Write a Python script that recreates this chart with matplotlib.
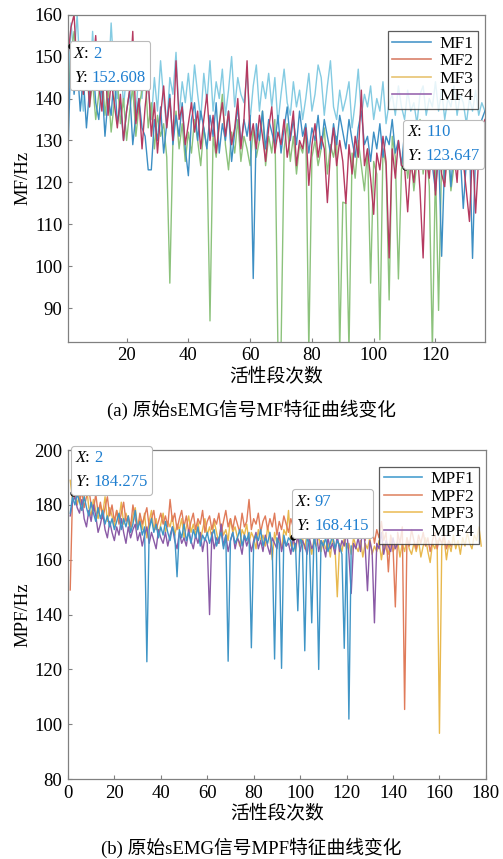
import numpy as np
import matplotlib
matplotlib.use("Agg")
import matplotlib.pyplot as plt
from matplotlib.lines import Line2D
from matplotlib.offsetbox import TextArea, HPacker, VPacker, AnnotationBbox

plt.rcParams['font.family'] = ['Liberation Serif', 'Noto Sans CJK SC']

# ---- data: (a) MF ----
mf1 = [126, 152.608, 141, 148, 137, 145, 133, 142, 150, 139, 135, 144, 131, 140, 136, 146, 134, 139, 130, 137,
       142, 129, 136, 140, 133, 131, 123, 123, 135, 130, 138, 127, 134, 141, 129, 136, 131, 139, 128, 121.6,
       135, 139, 130, 137, 133, 128, 136, 131, 139, 127, 134, 130, 137, 125, 132, 138, 129, 135, 131, 136,
       97.1, 134, 130, 137, 128, 135, 132, 129, 136, 127, 133, 138, 130, 135, 129, 137, 131, 134, 127, 133,
       130, 136, 128, 135, 131, 127, 134, 129, 136, 132, 128, 135, 130, 126, 133, 137, 129, 131, 125, 132,
       128, 134, 126, 131, 129, 135, 127, 130, 124, 132, 128, 126, 133, 129, 125, 131, 127, 130, 124, 118,
       128, 102.4, 126, 131, 119, 129, 124, 127, 113.8, 125, 130, 101.9, 128, 132, 135, 137]
mf2 = [150, 157, 160, 146, 153, 141, 151, 138, 147, 155, 143, 137, 149, 136, 144, 139, 133, 141, 130, 137,
       142, 156, 134, 140, 128, 138, 145, 131, 139, 127, 136, 143, 133, 140, 130, 149, 135, 138, 129, 134,
       139, 132, 137, 128, 135, 141, 130, 136, 127, 134, 139, 131, 137, 129, 133, 140, 128, 135, 149, 130,
       134, 128, 136, 131, 125, 133, 138, 127, 132, 129, 135, 126, 131, 137, 124, 130, 128, 133, 119.3, 129,
       134, 126, 131, 128, 115.2, 127, 133, 124, 130, 125, 115, 129, 122, 131, 126, 142, 124, 128, 121, 112.4,
       127, 123, 131, 125, 102, 128, 121, 130, 124, 123.647, 113, 125, 120, 129, 118, 102, 126, 121, 131, 117,
       128, 122, 119, 130, 124, 127, 120, 133, 125, 118, 110.7, 128, 112.7, 126, 131, 135]
mf3 = [140, 150, 156, 147, 152, 141, 148, 138, 144, 135, 141, 147, 136, 143, 132, 139, 145, 134, 140, 130,
       137, 143, 131, 138, 142, 146, 133, 139, 128, 136, 131, 134, 126, 96, 130, 137, 128, 134, 125, 132,
       127, 135, 130, 124, 133, 128, 87, 131, 126, 134, 141, 129, 123, 132, 127, 135, 125, 131, 128, 124,
       133, 126, 130, 137, 124, 131, 127, 135, 80, 80, 128, 134, 125, 131, 122, 129, 127, 133, 80, 126,
       130, 124, 128, 133, 122, 129, 126, 131, 80, 115.3, 115, 80, 127, 121, 130, 124, 118, 128, 96, 125,
       122, 82.5, 128, 124, 92, 131, 126, 97, 123, 129, 121, 127, 118, 125, 135, 122, 128, 119, 80, 124,
       89.5, 126, 120, 128, 118, 124]
mf4 = [140, 158, 150, 160, 145, 137, 152, 141, 156, 143, 148, 138, 150, 142, 158, 145, 140, 152, 138, 146,
       150, 141, 136, 147, 140, 152, 142, 135, 145, 137, 149, 140, 133, 145, 141, 151, 136, 144, 139, 146,
       138, 148, 141, 135, 146, 139, 149, 137, 144, 140, 147, 136, 142, 150, 138, 145, 141, 139, 146, 135,
       143, 148, 137, 144, 140, 146, 138, 145, 134, 141, 147, 139, 136, 144, 138, 142, 135, 140, 146, 137,
       141, 148, 145, 136, 143, 149, 138, 135, 142, 137, 140, 144, 133, 139, 147, 136, 141, 138, 143, 135,
       140, 137, 144, 134, 139, 141, 136, 143, 138, 135, 142, 137, 139, 134, 141, 143, 136, 140, 138, 144,
       137, 142, 135, 140, 138, 143, 136, 141, 139, 134, 140, 137, 142, 136, 139, 137]

# ---- data: (b) MPF ----
mpf1 = [177, 183, 180, 184, 181, 178, 183, 179, 176, 181, 177, 174, 179, 175, 178, 173, 176, 172, 175, 171,
        174, 177, 171, 175, 172, 176, 170, 173, 178, 171, 174, 169, 172, 122.8, 171, 175, 170, 173, 168, 172,
        169, 174, 170, 167, 172, 169, 153.8, 171, 168, 173, 167, 170, 166, 171, 168, 172, 165, 169, 167, 170,
        166, 169, 171, 165, 168, 170, 164, 169, 123, 167, 170, 166, 168, 171, 165, 169, 167, 170, 127.9, 166,
        169, 167, 171, 165, 168, 166, 170, 164, 123.8, 168, 166, 120.4, 169, 165, 168, 167, 163, 166, 141.4, 169,
        165, 126.8, 168, 166, 137, 169, 164, 120, 167, 165, 168, 163, 166, 169, 164, 167, 165, 162, 127.7, 166,
        101.9, 165]
mpf2 = [149, 184.275, 183, 187, 181, 185, 179, 183, 186, 180, 178, 184, 177, 181, 175, 179, 183, 176, 180, 174,
        178, 173, 177, 181, 174, 176, 172, 180, 175, 171, 177, 173, 176, 179, 172, 175, 178, 171, 174, 177,
        173, 176, 172, 182, 174, 177, 171, 175, 178, 172, 176, 170, 174, 177, 171, 175, 173, 178, 170, 174,
        176, 171, 175, 173, 177, 170, 174, 178, 172, 175, 171, 176, 173, 170, 177, 172, 174, 182, 171, 175,
        173, 177, 170, 174, 176, 171, 175, 172, 177, 169, 174, 171, 176, 173, 170, 175, 172, 178, 169, 174,
        171, 176, 170, 173, 175, 169, 174, 171, 177, 168, 173, 170, 175, 172, 169, 174, 171, 168, 176, 170,
        173, 169, 175, 171, 168, 174, 170, 167, 173, 169, 172, 166, 171, 168, 174, 167, 170, 155.6, 169, 165,
        142.8, 170, 166, 172, 105.4, 168, 165, 171, 167, 164, 169, 166, 170, 165, 168, 163, 167, 170, 164, 168,
        166, 169, 164, 167, 165]
mpf3 = [189, 182, 186, 180, 184, 178, 183, 187, 179, 176, 182, 178, 175, 180, 177, 183, 174, 179, 176, 172,
        178, 175, 181, 173, 177, 174, 170, 176, 179, 172, 175, 171, 177, 168, 174, 178, 171, 175, 169, 173,
        177, 170, 174, 172, 176, 169, 173, 171, 175, 168, 172, 176, 170, 173, 169, 174, 167, 171, 175, 169,
        172, 168, 174, 170, 166, 173, 169, 171, 167, 175, 170, 172, 168, 165, 171, 169, 173, 166, 170, 168,
        164, 171, 167, 169, 165, 172, 168, 160, 170, 166, 168, 164, 171, 169, 178, 165, 167, 163, 169, 166,
        168, 164, 170, 166, 162, 168, 165, 169, 163, 167, 164, 166, 161, 168, 165, 146.5, 166, 163, 168, 164,
        166, 162, 168, 165, 163, 167, 161, 166, 164, 168, 162, 165, 163, 167, 160, 166, 164, 162, 168, 163,
        165, 167, 161, 166, 163, 168, 164, 162, 166, 163, 167, 161, 165, 168, 163, 159, 166, 164, 167, 96.7,
        165, 168, 160, 166, 163, 169, 164, 167, 162, 168, 165, 170, 166, 164, 169, 167, 172, 165]
mpf4 = [176, 181, 183, 179, 177, 182, 175, 172, 178, 174, 180, 176, 170, 173, 177, 171, 168, 174, 170, 167,
        172, 169, 175, 170, 166, 172, 168, 171, 173, 167, 170, 165, 169, 172, 166, 170, 167, 164, 171, 168,
        166, 170, 165, 169, 172, 167, 164, 170, 166, 168, 165, 171, 167, 164, 169, 166, 170, 163, 168, 166,
        140, 170, 164, 168, 166, 173, 165, 169, 163, 167, 170, 164, 168, 166, 162, 169, 165, 168, 163, 167,
        170, 164, 167, 163, 169, 165, 162, 168, 166, 164, 170, 163, 167, 165, 166, 162, 168.415, 164, 169, 163,
        167, 165, 162, 168, 164, 166, 170, 163, 167, 165, 161, 168, 164, 166, 162, 169, 163, 167, 165, 171,
        162, 147.7, 166, 164, 168, 163, 174, 165, 148.7, 167, 163, 137, 166, 164, 170, 162, 167, 165, 163, 168,
        164, 166]

mf_labels = ["MF1", "MF2", "MF3", "MF4"]
mpf_labels = ["MPF1", "MPF2", "MPF3", "MPF4"]
legend_colors = ["#4a97c9", "#d9806a", "#e8c472", "#9a68b0"]


def idx(y):
    return np.arange(1, len(y) + 1)


def datatip(ax, xv, yv, dx, dy, align=(0, 0)):
    ax.plot(xv, yv, "o", color="black", ms=3.5, zorder=6, clip_on=False)
    fs = 12
    row1 = HPacker(children=[TextArea("X", textprops=dict(style="italic", size=fs, color="black")),
                             TextArea(": ", textprops=dict(size=fs, color="black")),
                             TextArea(f"{xv:g}", textprops=dict(size=fs, color="#1f7fd0"))],
                   pad=0, sep=0)
    row2 = HPacker(children=[TextArea("Y", textprops=dict(style="italic", size=fs, color="black")),
                             TextArea(": ", textprops=dict(size=fs, color="black")),
                             TextArea(f"{yv:.3f}", textprops=dict(size=fs, color="#1f7fd0"))],
                   pad=0, sep=0)
    box = VPacker(children=[row1, row2], pad=0, sep=6, align="left")
    ab = AnnotationBbox(box, (xv, yv), xybox=(dx, dy), xycoords="data",
                        boxcoords="offset points", box_alignment=align,
                        bboxprops=dict(boxstyle="round,pad=0.3,rounding_size=0.2",
                                       fc="white", ec="#bbbbbb", lw=0.8),
                        pad=0.25, frameon=True, annotation_clip=False, zorder=7)
    ax.add_artist(ab)


def style_axes(ax):
    for s in ax.spines.values():
        s.set_color("#808080")
        s.set_linewidth(0.9)
    ax.tick_params(direction="in", length=3, width=0.8, color="#808080",
                   labelsize=13.5, pad=4, top=False, right=False)


def add_legend(ax, colors, labels):
    handles = [Line2D([], [], color=c, lw=1.2) for c in colors]
    leg = ax.legend(handles, labels, loc="upper right", fontsize=12.5, frameon=True, fancybox=False,
                    edgecolor="#333333", handlelength=2.2, borderpad=0.25, labelspacing=0.08,
                    handletextpad=0.5, borderaxespad=0.3, bbox_to_anchor=(0.995, 0.965))
    leg.get_frame().set_linewidth(0.9)


fig = plt.figure(figsize=(5.03, 8.59), dpi=100)

# ---- (a) ----
ax1 = fig.add_axes([0.135, 0.602, 0.829, 0.381])
ax1.plot(idx(mf4), mf4, color="#84cbe2", lw=1.0)
ax1.plot(idx(mf3), mf3, color="#8cc27c", lw=1.0)
ax1.plot(idx(mf1), mf1, color="#3d8fc4", lw=1.0)
ax1.plot(idx(mf2), mf2, color="#b53a60", lw=1.0)
ax1.set_xlim(1, 136)
ax1.set_ylim(82, 160)
ax1.set_xticks(range(20, 121, 20))
ax1.set_yticks(range(90, 161, 10))
ax1.set_xlabel("活性段次数", fontsize=13.5, labelpad=2)
ax1.set_ylabel("MF/Hz", fontsize=13.5, labelpad=2)
style_axes(ax1)
add_legend(ax1, legend_colors, mf_labels)
datatip(ax1, 2, mf1[1], 2, 0, align=(0, 1))
datatip(ax1, 110, mf2[109], 2, 2)

# ---- (b) ----
ax2 = fig.add_axes([0.135, 0.093, 0.831, 0.383])
ax2.plot(idx(mpf3), mpf3, color="#e8b84d", lw=1.0)
ax2.plot(idx(mpf2), mpf2, color="#e07b5a", lw=1.0)
ax2.plot(idx(mpf4), mpf4, color="#8a5aa6", lw=1.0)
ax2.plot(idx(mpf1), mpf1, color="#3f95c6", lw=1.0)
ax2.set_xlim(0, 180)
ax2.set_ylim(80, 200)
ax2.set_xticks(range(0, 181, 20))
ax2.set_yticks(range(80, 201, 20))
ax2.set_xlabel("活性段次数", fontsize=13.5, labelpad=2)
ax2.set_ylabel("MPF/Hz", fontsize=13.5, labelpad=2)
style_axes(ax2)
add_legend(ax2, ["#4a9fd0", "#e08a6a", "#ecc060", "#9264ae"], mpf_labels)
datatip(ax2, 2, mpf2[1], 2, 2)
datatip(ax2, 97, mpf4[96], 2, 2)

fig.text(0.5, 1 - 410 / 859, "(a) 原始sEMG信号MF特征曲线变化", ha="center", va="center", fontsize=13.5)
fig.text(0.5, 1 - 848 / 859, "(b) 原始sEMG信号MPF特征曲线变化", ha="center", va="center", fontsize=13.5)

fig.savefig("out.png", dpi=100)
